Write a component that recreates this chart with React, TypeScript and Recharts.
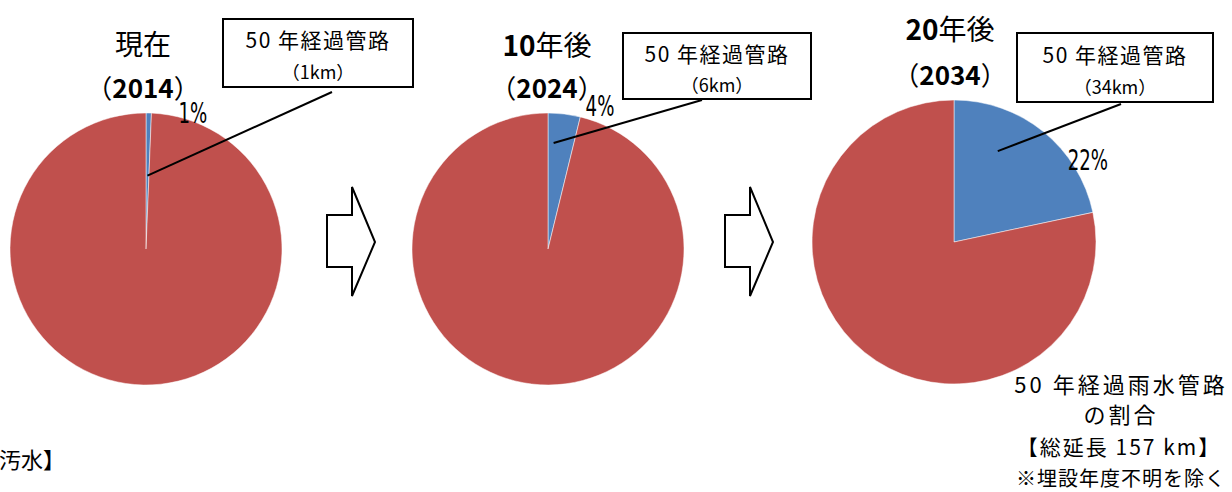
import { Cell, Pie, PieChart } from 'recharts'

// 50年経過雨水管路の延長 (km) — 総延長 157km
const titles = ['現在', '10年後', '20年後']
const years = ['2014', '2024', '2034']
const agedKm = [1, 6, 34]
const otherKm = [156, 151, 123]
const sliceNames = ['50年経過管路', 'その他']
const sliceColors = ['#4F81BD', '#C0504D']

const W = 1232
const H = 492
const JP = "'Noto Sans CJK JP', 'Noto Sans', sans-serif"
const NARROW = "'Liberation Sans Narrow', 'DejaVu Sans Condensed', 'Liberation Sans', sans-serif"

// layout only: pie placement, callout boxes, label nudges
const pies = [
  { cx: 146, cy: 249, r: 136, box: { x: 223, y: 19, w: 190, h: 68 }, leaderFrom: { x: 332, y: 92 }, leaderAt: { frac: 0.5, rFrac: 0.54 }, pctAt: { deg: 19, dist: 8 } },
  { cx: 548, cy: 249, r: 136, box: { x: 623, y: 33, w: 188, h: 66 }, leaderFrom: { x: 702, y: 100 }, leaderAt: { frac: 0.22, rFrac: 0.78 }, pctAt: { deg: 20, dist: 16 } },
  { cx: 954, cy: 242, r: 142, box: { x: 1017, y: 33, w: 196, h: 69 }, leaderFrom: { x: 1121, y: 104 }, leaderAt: { frac: 0.33, rFrac: 0.71 }, pctAt: { deg: 58.5, dist: 15 } },
]
const titlePos = [
  { x: 143, y1: 43, y2: 86 },
  { x: 547, y1: 44, y2: 86 },
  { x: 950, y1: 28, y2: 73 },
]

const polar = (cx: number, cy: number, r: number, deg: number) => {
  const a = (deg * Math.PI) / 180
  return { x: cx + r * Math.sin(a), y: cy - r * Math.cos(a) }
}

function makeLabel(i: number) {
  const p = pies[i]
  return (props: any) => {
    const { cx, cy, outerRadius, percent, index } = props
    if (index !== 0) return null
    const span = 360 * percent
    const end = polar(cx, cy, outerRadius * p.leaderAt.rFrac, span * p.leaderAt.frac)
    const pct = polar(cx, cy, outerRadius + p.pctAt.dist, p.pctAt.deg)
    const { box } = p
    return (
      <g>
        <text
          transform={`translate(${pct.x},${pct.y}) scale(0.72,1)`}
          textAnchor="middle"
          dominantBaseline="central"
          fontFamily={NARROW}
          fontSize={28}
          fill="#000"
        >
          {`${Math.round(percent * 100)}%`}
        </text>
        <line x1={p.leaderFrom.x} y1={p.leaderFrom.y} x2={end.x} y2={end.y} stroke="#000" strokeWidth={2} />
        <rect x={box.x} y={box.y} width={box.w} height={box.h} fill="#fff" stroke="#000" strokeWidth={2} />
        <text x={box.x + box.w / 2} y={box.y + box.h * 0.3} textAnchor="middle" dominantBaseline="central" fontFamily={JP} fontSize={21} letterSpacing={1.5} fill="#000">
          50 年経過管路
        </text>
        <text x={box.x + box.w / 2} y={box.y + box.h * 0.77} textAnchor="middle" dominantBaseline="central" fontFamily={JP} fontSize={18} fill="#000">
          {`（${agedKm[i]}km）`}
        </text>
      </g>
    )
  }
}

const Arrow = ({ dx }: { dx: number }) => (
  <polygon
    points={[
      [327, 215], [352, 215], [352, 187], [375, 242], [352, 296], [352, 267], [327, 267],
    ].map(([x, y]) => `${x + dx},${y}`).join(' ')}
    fill="#fff"
    stroke="#000"
    strokeWidth={2}
  />
)

export default function App() {
  return (
    <div style={{ position: 'absolute', left: 0, top: 0, width: W, height: H, background: '#fff', overflow: 'hidden' }}>
      <PieChart width={W} height={H} margin={{ top: 0, right: 0, bottom: 0, left: 0 }}>
        {pies.map((p, i) => (
          <Pie
            key={years[i]}
            data={[
              { name: sliceNames[0], value: agedKm[i] },
              { name: sliceNames[1], value: otherKm[i] },
            ]}
            dataKey="value"
            cx={p.cx}
            cy={p.cy}
            outerRadius={p.r}
            startAngle={90}
            endAngle={-270}
            stroke="#fff"
            strokeWidth={0.5}
            label={makeLabel(i)}
            labelLine={false}
            isAnimationActive={false}
          >
            {sliceColors.map(c => (
              <Cell key={c} fill={c} />
            ))}
          </Pie>
        ))}
      </PieChart>
      <svg width={W} height={H} style={{ position: 'absolute', left: 0, top: 0, pointerEvents: 'none' }}>
        {titles.map((t, i) => {
          const pos = titlePos[i]
          const m = t.match(/^(\d*)(.*)$/)!
          return (
            <g key={t} fontFamily={JP} fill="#000" textAnchor="middle">
              <text x={pos.x} y={pos.y1} dominantBaseline="central" fontSize={28}>
                {m[1] && <tspan fontWeight={700}>{m[1]}</tspan>}
                <tspan fontWeight={400}>{m[2]}</tspan>
              </text>
              <text x={pos.x} y={pos.y2} dominantBaseline="central" fontSize={26}>
                <tspan>（</tspan>
                <tspan fontWeight={700}>{years[i]}</tspan>
                <tspan>）</tspan>
              </text>
            </g>
          )
        })}
        <Arrow dx={0} />
        <Arrow dx={398} />
        <g fontFamily={JP} fill="#000" textAnchor="middle">
          <text x={1121} y={383} dominantBaseline="central" fontSize={22} letterSpacing={3}>50 年経過雨水管路</text>
          <text x={1121} y={413} dominantBaseline="central" fontSize={22} letterSpacing={3}>の割合</text>
          <text x={1119} y={446} dominantBaseline="central" fontSize={21} letterSpacing={2}>【総延長 157 km】</text>
          <text x={1121} y={477} dominantBaseline="central" fontSize={20} letterSpacing={1}>※埋設年度不明を除く</text>
        </g>
        <text x={-1} y={458} dominantBaseline="central" fontFamily={JP} fontSize={22} fill="#000">汚水】</text>
      </svg>
    </div>
  )
}
